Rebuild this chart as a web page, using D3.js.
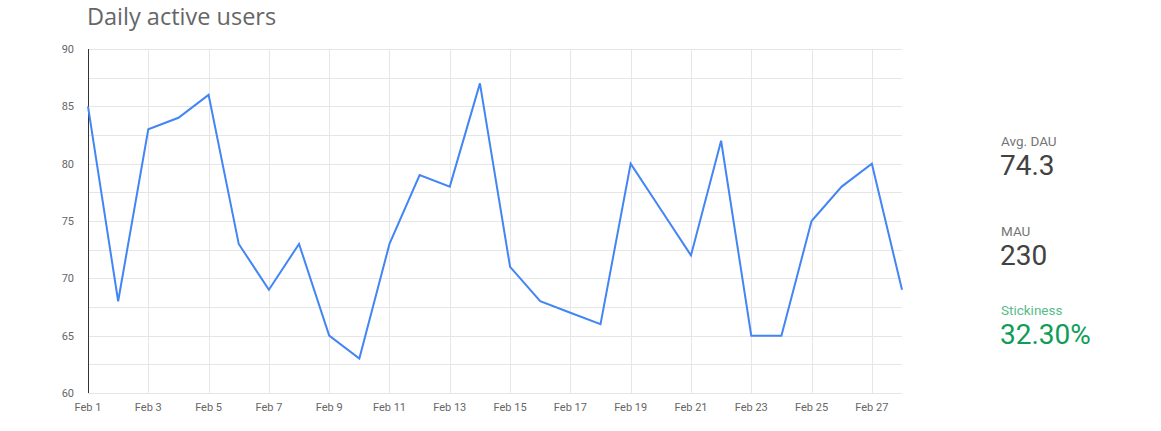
<!DOCTYPE html>
<html><head><meta charset="utf-8">
<script src="https://cdn.jsdelivr.net/npm/d3@7"></script>
<style>body{margin:0;background:#fff;}svg{display:block;font-family:Roboto,"Open Sans",sans-serif;}</style>
</head><body>
<svg id="c" width="1161" height="431"></svg>
<script>
const days = [1,2,3,4,5,6,7,8,9,10,11,12,13,14,15,16,17,18,19,20,21,22,23,24,25,26,27,28];
const dau = [85,68,83,84,86,73,69,73,65,63,73,79,78,87,71,68,67,66,80,76,72,82,65,65,75,78,80,69];
const yTicks = [60,65,70,75,80,85,90];
const yGrid = [60,62.5,65,67.5,70,72.5,75,77.5,80,82.5,85,87.5,90];
const xTickDays = [1,3,5,7,9,11,13,15,17,19,21,23,25,27];
const stats = [
  {label:"Avg. DAU", value:"74.3"},
  {label:"MAU", value:"230"},
  {label:"Stickiness", value:"32.30%"}
];

const svg = d3.select("#c");
const x = d3.scaleLinear().domain([1,28]).range([88,902]);
const y = d3.scaleLinear().domain([60,90]).range([393,49]);

svg.append("text").attr("x",87).attr("y",25).attr("font-size",23.5).attr("fill","#666")
  .attr("font-family","'Open Sans',Roboto,sans-serif").text("Daily active users");

const g = svg.append("g");
g.selectAll(".hg").data(yGrid).enter().append("line")
  .attr("x1",88).attr("x2",902).attr("y1",d=>Math.round(y(d))+0.5).attr("y2",d=>Math.round(y(d))+0.5)
  .attr("stroke","#e6e6e6").attr("stroke-width",1);
g.selectAll(".vg").data(xTickDays.filter(d=>d>1)).enter().append("line")
  .attr("x1",d=>Math.round(x(d))+0.5).attr("x2",d=>Math.round(x(d))+0.5).attr("y1",49).attr("y2",393)
  .attr("stroke","#e6e6e6").attr("stroke-width",1);

g.append("line").attr("x1",88.5).attr("x2",88.5).attr("y1",49).attr("y2",393).attr("stroke","#333").attr("stroke-width",1);

g.selectAll(".yl").data(yTicks).enter().append("text")
  .attr("x",74).attr("y",d=>y(d)+4).attr("text-anchor","end").attr("font-size",11).attr("fill","#666").text(d=>d);
g.selectAll(".xl").data(xTickDays).enter().append("text")
  .attr("x",d=>x(d)).attr("y",411).attr("text-anchor","middle").attr("font-size",11).attr("fill","#666").text(d=>"Feb "+d);

const line = d3.line().x((d,i)=>x(days[i])).y(d=>y(d));
g.append("path").datum(dau).attr("d",line).attr("fill","none").attr("stroke","#4285f4").attr("stroke-width",2).attr("stroke-linejoin","miter");

const sx = 1001;
const sy = [146,236,315];
stats.forEach((s,i)=>{
  const green = i===2;
  svg.append("text").attr("x",sx).attr("y",sy[i]).attr("font-size",13.5).attr("fill",green?"#57bb8a":"#757575").text(s.label);
  svg.append("text").attr("x",sx-1).attr("y",sy[i]+29).attr("font-size",28).attr("fill",green?"#0f9d58":"#424242").text(s.value);
});
</script>
</body></html>
